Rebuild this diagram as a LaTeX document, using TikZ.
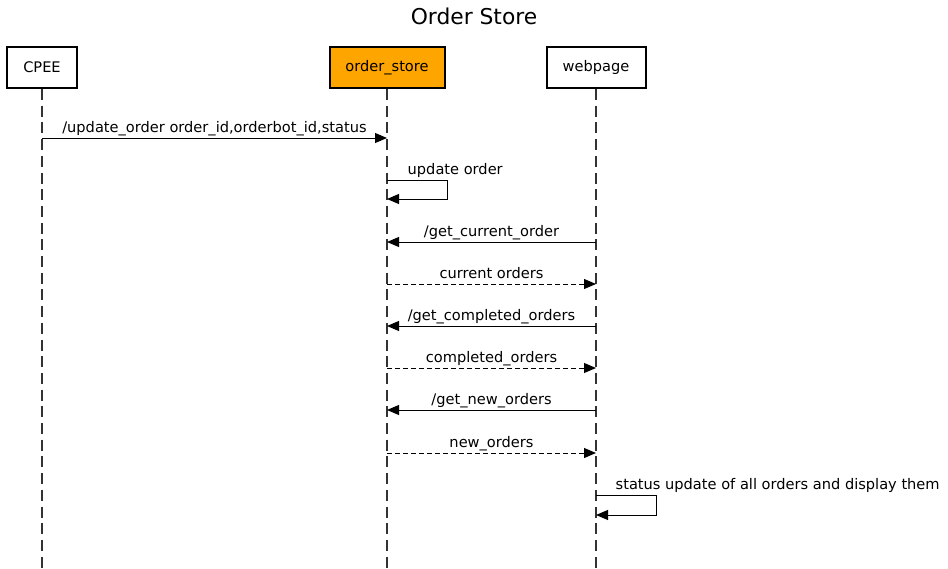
\documentclass[tikz,border=0pt]{standalone}
\usepackage{fontspec}
\setmainfont{DejaVu Sans}
\usepackage{xcolor}
\usetikzlibrary{arrows.meta,positioning}
\definecolor{storeorange}{HTML}{FFA500}
\definecolor{lifegray}{HTML}{333333}

\tikzset{
  actor/.style={draw, line width=2pt, minimum height=41pt, inner sep=0pt, font=\fontsize{14.6}{17}\selectfont},
  life/.style={lifegray, line width=1.2pt, dash pattern=on 11pt off 5.7pt},
  msg/.style={line width=1pt, -{Triangle[length=12pt,width=10pt]}},
  reply/.style={msg, dash pattern=on 5pt off 3pt},
  lbl/.style={font=\fontsize{14.6}{17}\selectfont, inner sep=1.5pt, text height=11pt, text depth=3.5pt, anchor=south}
}

\begin{document}
\begin{tikzpicture}[x=1pt, y=-1pt]
\useasboundingbox (0,0) rectangle (948,568);

% title
\node[font=\fontsize{21.8}{26}\selectfont] (title) at (474,16) {Order Store};

% actors
\node[actor, minimum width=70pt] (cpee) at (42,67.5) {CPEE};
\node[actor, minimum width=115pt, fill=storeorange] (store) at (387,67.5) {order\_store};
\node[actor, minimum width=99pt] (web) at (596,67.5) {webpage};

% lifelines
\coordinate (cpee end) at (42,568);
\coordinate (store end) at (387,568);
\coordinate (web end) at (596,568);
\draw[life] (cpee.south) -- (cpee end);
\draw[life] (store.south) -- (store end);
\draw[life] (web.south) -- (web end);

% messages
\draw[msg] (cpee |- 0,138) -- node[lbl] {/update\_order order\_id,orderbot\_id,status} (store |- 0,138);

\draw[msg] (store |- 0,180) -- ++(60,0) -- ++(0,19) -- (store |- 0,199);
\node[lbl, anchor=south west] (upd) at (406,180) {update order};

\draw[msg] (web |- 0,242) -- node[lbl] {/get\_current\_order} (store |- 0,242);
\draw[reply] (store |- 0,284) -- node[lbl] {current orders} (web |- 0,284);
\draw[msg] (web |- 0,326) -- node[lbl] {/get\_completed\_orders} (store |- 0,326);
\draw[reply] (store |- 0,368) -- node[lbl] {completed\_orders} (web |- 0,368);
\draw[msg] (web |- 0,410) -- node[lbl] {/get\_new\_orders} (store |- 0,410);
\draw[reply] (store |- 0,453) -- node[lbl] {new\_orders} (web |- 0,453);

\draw[msg] (web |- 0,495) -- ++(60,0) -- ++(0,20) -- (web |- 0,515);
\node[lbl, anchor=south west] (disp) at (614,495) {status update of all orders and display them};

\end{tikzpicture}
\end{document}
